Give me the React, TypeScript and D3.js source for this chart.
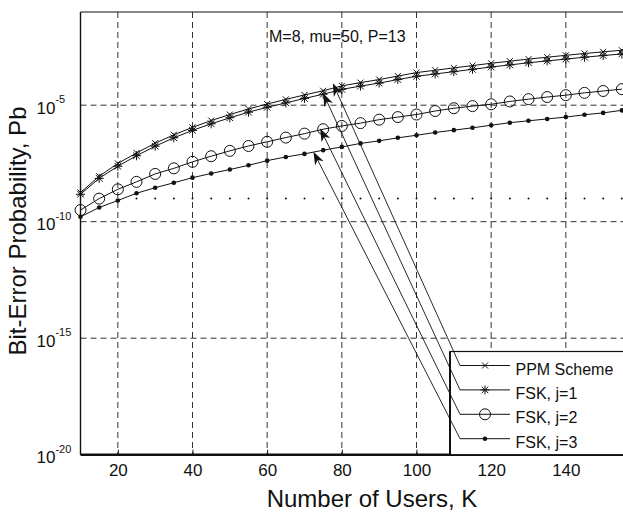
import React, { useRef, useEffect } from "react";
import * as d3 from "d3";

// values; y values are log10(Pb)
const users = [10, 15, 20, 25, 30, 35, 40, 45, 50, 55, 60, 65, 70, 75, 80, 85, 90, 95, 100, 105, 110, 115, 120, 125, 130, 135, 140, 145, 150, 155];
const ppmExp = [-8.75, -8.05, -7.5, -7.05, -6.63, -6.27, -5.95, -5.66, -5.4, -5.16, -4.95, -4.75, -4.56, -4.38, -4.17, -4.03, -3.9, -3.75, -3.6, -3.5, -3.4, -3.3, -3.2, -3.11, -3.02, -2.94, -2.86, -2.78, -2.71, -2.64];
const fsk1Exp = [-8.82, -8.14, -7.62, -7.17, -6.76, -6.4, -6.08, -5.8, -5.54, -5.3, -5.09, -4.9, -4.71, -4.53, -4.32, -4.18, -4.05, -3.9, -3.76, -3.66, -3.56, -3.46, -3.36, -3.27, -3.18, -3.1, -3.02, -2.94, -2.87, -2.8];
const fsk2Exp = [-9.5, -9.01, -8.61, -8.29, -7.95, -7.71, -7.43, -7.19, -6.96, -6.75, -6.57, -6.39, -6.22, -6.03, -5.89, -5.77, -5.62, -5.51, -5.4, -5.25, -5.13, -5.04, -4.96, -4.84, -4.74, -4.65, -4.57, -4.47, -4.39, -4.31];
const fsk3Exp = [-9.79, -9.39, -9.09, -8.78, -8.54, -8.33, -8.11, -7.93, -7.76, -7.58, -7.38, -7.22, -7.09, -6.93, -6.79, -6.64, -6.53, -6.4, -6.29, -6.17, -6.07, -5.97, -5.86, -5.75, -5.67, -5.59, -5.51, -5.41, -5.33, -5.22];
const floorUsers = [25, 30, 35, 40, 45, 50, 55, 60, 65, 70, 75, 80, 85, 90, 95, 100, 105, 110, 115, 120, 125, 130, 135, 140, 145, 150, 155];
const floorExp = -9;

const xTicks = [20, 40, 60, 80, 100, 120, 140];
const yTickExp = [-20, -15, -10, -5];
const gridExp = [-15, -10, -5];

const legendLabels = ["PPM Scheme", "FSK, j=1", "FSK, j=2", "FSK, j=3"];
const markerKinds = ["x", "star", "circle", "dot"];
const arrowTipK = [77.6, 75, 74.2, 72.4];
const arrowTipExp = [-4.06, -4.49, -6.0, -7.0];

const font = "'Liberation Sans', Arial, Helvetica, sans-serif";

const Marker = ({ kind, cx, cy }: { kind: string; cx: number; cy: number }) => {
    if (kind === "x") {
        return (
            <path d={`M${cx - 3},${cy - 3}L${cx + 3},${cy + 3}M${cx - 3},${cy + 3}L${cx + 3},${cy - 3}`} stroke="#111" strokeWidth={1} />
        );
    }
    if (kind === "star") {
        return (
            <path
                d={`M${cx},${cy - 4.5}L${cx},${cy + 4.5}M${cx - 4.5},${cy}L${cx + 4.5},${cy}M${cx - 3.3},${cy - 3.3}L${cx + 3.3},${cy + 3.3}M${cx - 3.3},${cy + 3.3}L${cx + 3.3},${cy - 3.3}`}
                stroke="#111"
                strokeWidth={1}
            />
        );
    }
    if (kind === "circle") {
        return <circle cx={cx} cy={cy} r={5.5} fill="none" stroke="#111" strokeWidth={1} />;
    }
    return <circle cx={cx} cy={cy} r={2.3} fill="#111" />;
};

const App = () => {
    const xAxisRef = useRef<SVGGElement>(null);
    const width = 623;
    const height = 512;
    const left = 80.5;
    const right = 640.5;
    const top = 12;
    const bottom = 454.7;

    const x = d3.scaleLinear().domain([10, 160]).range([left, right]);
    const y = d3.scaleLog().domain([1e-20, 1e-1]).range([bottom, top]);

    const line = d3
        .line<[number, number]>()
        .x((d) => x(d[0]))
        .y((d) => y(Math.pow(10, d[1])));

    const series = [ppmExp, fsk1Exp, fsk2Exp, fsk3Exp].map((vals) =>
        users.map((k, i) => [k, vals[i]] as [number, number])
    );

    useEffect(() => {
        const g = d3.select(xAxisRef.current);
        g.call(d3.axisBottom(x).tickValues(xTicks).tickSize(-5).tickPadding(9).tickFormat(d3.format("d")));
        g.select(".domain").remove();
        g.selectAll(".tick line").attr("stroke", "#111");
        g.selectAll(".tick text")
            .attr("font-size", 17)
            .attr("font-family", font)
            .attr("fill", "#111");
    }, []);

    const legTop = 351.5;
    const rowY = (i: number) => 365.5 + i * 24.4;

    return (
        <svg width={width} height={height} style={{ position: "absolute", left: 0, top: 0 }} fontFamily={font}>
            <rect x={0} y={0} width={width} height={height} fill="#fff" />

            {/* grid */}
            <g stroke="#333" strokeWidth={1} strokeDasharray="6,4">
                {xTicks.map((t) => (
                    <line key={t} x1={x(t)} x2={x(t)} y1={top} y2={bottom} />
                ))}
                {gridExp.map((e) => (
                    <line key={e} x1={left} x2={right} y1={y(Math.pow(10, e))} y2={y(Math.pow(10, e))} />
                ))}
            </g>

            {/* dotted floor */}
            {floorUsers.map((k) => (
                <circle key={k} cx={x(k)} cy={y(Math.pow(10, floorExp))} r={1} fill="#111" />
            ))}

            {/* curves */}
            {series.map((pts, s) => (
                <g key={s}>
                    <path d={line(pts) || ""} fill="none" stroke="#111" strokeWidth={1} />
                    {pts.map((p, i) => (
                        <Marker key={i} kind={markerKinds[s]} cx={x(p[0])} cy={y(Math.pow(10, p[1]))} />
                    ))}
                </g>
            ))}

            {/* frame */}
            <line x1={left} x2={right} y1={top} y2={top} stroke="#111" strokeWidth={1.2} />
            <line x1={left} x2={left} y1={top} y2={bottom} stroke="#111" strokeWidth={1.4} />
            <line x1={left} x2={right} y1={bottom} y2={bottom} stroke="#111" strokeWidth={2.4} />

            <g ref={xAxisRef} transform={`translate(0,${bottom})`} />

            {/* y tick labels */}
            {yTickExp.map((e) => (
                <text key={e} x={36.5} y={y(Math.pow(10, e)) + 8.5} fontSize={17} fill="#111">
                    10
                    <tspan fontSize={11} dy={-10.5}>
                        {e}
                    </tspan>
                </text>
            ))}

            {/* annotation */}
            <text x={269} y={41.5} fontSize={16} fill="#111">
                M=8, mu=50, P=13
            </text>

            {/* legend */}
            <rect x={450} y={legTop} width={200} height={bottom - legTop} fill="#fff" stroke="#111" strokeWidth={1.2} />
            <line x1={450} x2={450} y1={legTop} y2={bottom} stroke="#111" strokeWidth={2} />
            {legendLabels.map((lab, i) => (
                <g key={lab}>
                    <line x1={460} x2={510} y1={rowY(i)} y2={rowY(i)} stroke="#111" strokeWidth={1} />
                    <Marker kind={markerKinds[i]} cx={485} cy={rowY(i)} />
                    <text x={515.5} y={rowY(i) + 9} fontSize={16} fill="#111">
                        {lab}
                    </text>
                </g>
            ))}

            {/* arrows from legend to curves */}
            {legendLabels.map((lab, i) => {
                const tx = x(arrowTipK[i]);
                const ty = y(Math.pow(10, arrowTipExp[i]));
                const sx = 460;
                const sy = rowY(i);
                const len = Math.hypot(sx - tx, sy - ty);
                const ux = (sx - tx) / len;
                const uy = (sy - ty) / len;
                const px = -uy;
                const py = ux;
                const hl = 13;
                const hw = 4.8;
                const head = `M${tx},${ty}L${tx + ux * hl + px * hw},${ty + uy * hl + py * hw}L${tx + ux * hl * 0.7},${ty + uy * hl * 0.7}L${tx + ux * hl - px * hw},${ty + uy * hl - py * hw}Z`;
                return (
                    <g key={lab}>
                        <line x1={sx} y1={sy} x2={tx + ux * 6} y2={ty + uy * 6} stroke="#111" strokeWidth={0.9} />
                        <path d={head} fill="#111" />
                    </g>
                );
            })}

            {/* axis titles */}
            <text x={372} y={506.5} fontSize={24} textAnchor="middle" fill="#111">
                Number of Users, K
            </text>
            <text transform="translate(25.5,231) rotate(-90)" fontSize={24} textAnchor="middle" fill="#111">
                Bit-Error Probability, Pb
            </text>
        </svg>
    );
};

export default App;
